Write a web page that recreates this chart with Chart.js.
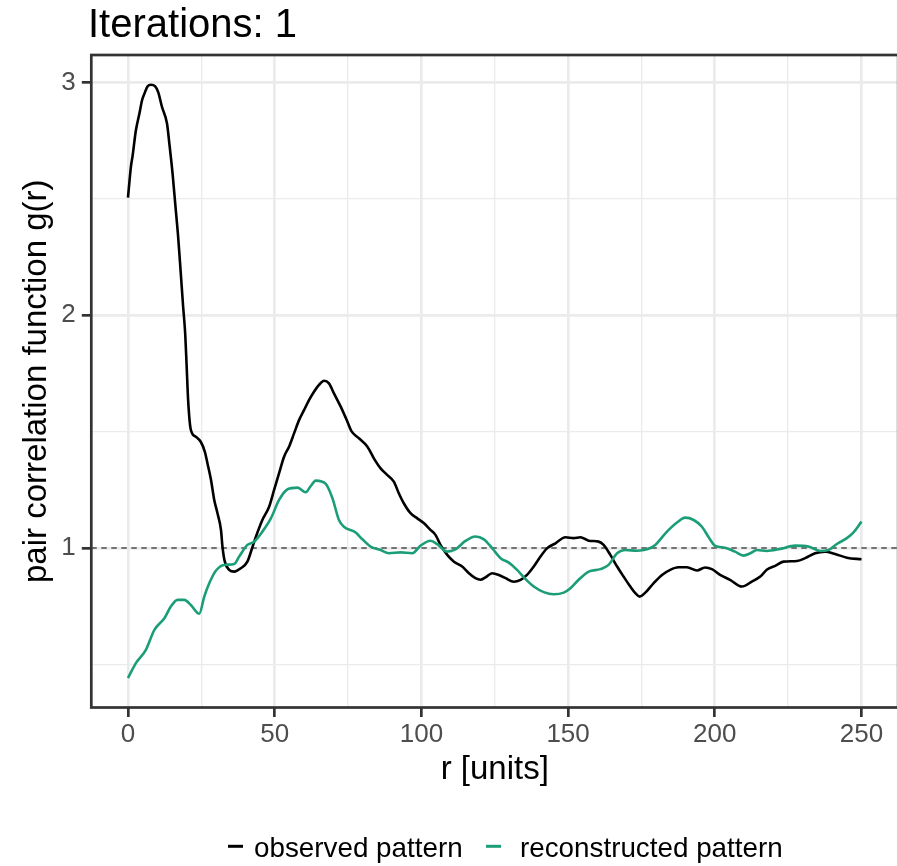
<!DOCTYPE html>
<html>
<head>
<meta charset="utf-8">
<script src="https://cdn.jsdelivr.net/npm/chart.js@4.4.1/dist/chart.umd.min.js"></script>
<style>
  html, body { margin: 0; padding: 0; background: #ffffff; overflow: hidden; }
  #wrap { position: relative; width: 920px; height: 866px; }
</style>
</head>
<body>
<div id="wrap"><canvas id="c" width="920" height="866"></canvas></div>
<script>
// ---- text ----
const plotTitle = 'Iterations: 1';
const xTitle = 'r [units]';
const yTitle = 'pair correlation function g(r)';
const seriesNames = ['observed pattern', 'reconstructed pattern'];
const seriesColors = ['#000000', '#1B9E77'];

// ---- observed pattern: distance r and g(r) ----
const obsR = [0, 1.0, 1.6, 2.7, 3.9, 4.8, 5.8, 6.7, 7.8, 9.2,
  10.3, 11.6, 13.3, 14.1, 15.2, 16.1, 17.1, 18.0, 18.8, 19.5,
  20.0, 20.5, 21.4, 23.1, 24.8, 26.2, 27.1, 28.3, 29.4, 30.5,
  31.7, 32.2, 33.0, 34.5, 36.2, 38.5, 40.7, 42.1, 43.6, 45.8,
  48.1, 49.8, 51.5, 53.2, 54.9, 56.6, 58.3, 60.0, 61.7, 63.4,
  65.1, 66.8, 68.5, 70.2, 72.5, 74.8, 76.1, 78.7, 81.6, 83.8,
  86.1, 88.4, 90.6, 92.3, 94.0, 96.3, 98.6, 100.9, 102.9, 104.8,
  106.5, 108.8, 111.1, 113.9, 116.2, 118.4, 120.1, 121.9, 124.1, 126.4,
  128.7, 131.5, 133.8, 136.0, 138.3, 140.6, 142.9, 145.7, 149.1, 151.9,
  154.2, 157.0, 160.4, 162.1, 164.4, 166.7, 168.9, 171.2, 172.9, 174.4,
  176.3, 179.1, 182.0, 184.8, 187.6, 190.5, 193.9, 196.7, 199.0, 201.8,
  205.2, 209.2, 212.6, 215.5, 217.7, 220.6, 223.4, 228.0, 230.8, 234.2,
  237.6, 241.0, 245.0, 250.0];
const obsG = [2.505, 2.637, 2.687, 2.794, 2.866, 2.923, 2.958, 2.983, 2.990, 2.984,
  2.958, 2.894, 2.823, 2.737, 2.608, 2.479, 2.336, 2.179, 2.036, 1.921,
  1.780, 1.635, 1.509, 1.478, 1.456, 1.413, 1.363, 1.292, 1.206, 1.149,
  1.077, 1.006, 0.941, 0.906, 0.898, 0.913, 0.941, 0.991, 1.048, 1.120,
  1.177, 1.249, 1.321, 1.392, 1.435, 1.492, 1.549, 1.592, 1.635, 1.671,
  1.700, 1.718, 1.707, 1.664, 1.607, 1.542, 1.503, 1.471, 1.435, 1.385,
  1.342, 1.313, 1.285, 1.235, 1.192, 1.149, 1.127, 1.106, 1.080, 1.056,
  1.013, 0.970, 0.941, 0.920, 0.891, 0.870, 0.863, 0.874, 0.891, 0.884,
  0.870, 0.855, 0.863, 0.884, 0.920, 0.963, 0.999, 1.020, 1.046, 1.042,
  1.046, 1.031, 1.027, 1.013, 0.970, 0.920, 0.877, 0.834, 0.806, 0.791,
  0.808, 0.848, 0.884, 0.906, 0.917, 0.917, 0.903, 0.916, 0.909, 0.884,
  0.863, 0.834, 0.855, 0.877, 0.906, 0.923, 0.941, 0.944, 0.956, 0.977,
  0.984, 0.974, 0.958, 0.951];

// ---- reconstructed pattern: distance r and g(r) ----
const recR = [0, 2.7, 6.1, 9.0, 12.4, 14.6, 16.9, 19.2, 21.4, 24.3,
  26.0, 27.7, 30.0, 32.8, 36.2, 37.9, 40.7, 43.0, 45.8, 48.7,
  51.5, 54.4, 57.8, 60.6, 62.3, 64.0, 67.4, 69.7, 71.9, 73.6,
  77.6, 79.9, 82.7, 86.1, 88.9, 92.9, 96.9, 99.7, 103.1, 105.4,
  108.8, 111.6, 115.0, 118.4, 121.3, 124.1, 127.0, 129.8, 132.6, 135.5,
  138.3, 141.7, 145.1, 148.5, 150.8, 153.6, 157.0, 161.0, 163.8, 166.7,
  169.5, 173.5, 176.9, 179.7, 183.7, 187.1, 189.9, 192.8, 195.6, 197.9,
  200.1, 203.5, 206.9, 209.8, 212.1, 214.3, 217.7, 222.3, 227.4, 231.9,
  235.9, 238.7, 241.6, 245.0, 247.2, 250.0];
const recG = [0.441, 0.505, 0.562, 0.648, 0.698, 0.748, 0.777, 0.777, 0.755, 0.717,
  0.791, 0.848, 0.903, 0.927, 0.931, 0.963, 1.013, 1.027, 1.070, 1.127,
  1.206, 1.252, 1.259, 1.239, 1.266, 1.289, 1.275, 1.213, 1.120, 1.091,
  1.066, 1.037, 1.006, 0.991, 0.977, 0.981, 0.977, 1.010, 1.031, 1.016,
  0.984, 0.994, 1.030, 1.049, 1.037, 0.999, 0.956, 0.937, 0.906, 0.866,
  0.834, 0.810, 0.801, 0.808, 0.827, 0.863, 0.898, 0.909, 0.927, 0.977,
  0.991, 0.988, 0.994, 1.013, 1.070, 1.109, 1.130, 1.120, 1.091, 1.046,
  1.009, 1.001, 0.984, 0.967, 0.977, 0.991, 0.987, 0.996, 1.010, 1.006,
  0.987, 0.991, 1.017, 1.042, 1.066, 1.113];

// ---- axes ----
const xMajor = [0, 50, 100, 150, 200, 250];
const xMinor = [25, 75, 125, 175, 225];
const yMajor = [1, 2, 3];
const yMinor = [0.5, 1.5, 2.5];
const xLimits = [-12.5, 262.5];
const yLimits = [0.3145, 3.1175];
const refLine = 1;   // g(r) of a random pattern

const FONT = '"Liberation Sans", Arial, Helvetica, sans-serif';
Chart.defaults.font.family = FONT;

const toPoints = (xs, ys) => xs.map((x, i) => ({ x: x, y: ys[i] }));
const sortedTicks = (a, b) => a.concat(b).sort((p, q) => p - q).map(v => ({ value: v }));
const isMajor = (list, c) => c.tick && list.includes(c.tick.value);

// panel frame, title and legend
const decorations = {
  id: 'decorations',
  afterDatasetsDraw(chart) {
    const { ctx, chartArea: a } = chart;
    ctx.save();
    ctx.strokeStyle = '#333333';
    ctx.lineWidth = 2.7;
    ctx.strokeRect(a.left, a.top, a.right - a.left, a.bottom - a.top);
    ctx.restore();
  },
  afterDraw(chart) {
    const ctx = chart.ctx;
    ctx.save();
    ctx.fillStyle = '#000000';
    ctx.textBaseline = 'alphabetic';
    ctx.textAlign = 'left';
    ctx.font = '40px ' + FONT;
    ctx.fillText(plotTitle, 88, 36.5);

    // legend keys and labels
    const keyX = [228, 486];
    const textX = [254, 520];
    ctx.font = '27.8px ' + FONT;
    seriesNames.forEach((name, i) => {
      ctx.strokeStyle = seriesColors[i];
      ctx.lineWidth = 3;
      ctx.beginPath();
      ctx.moveTo(keyX[i], 846.3);
      ctx.lineTo(keyX[i] + 15, 846.3);
      ctx.stroke();
      ctx.fillStyle = '#000000';
      ctx.fillText(name, textX[i], 857);
    });
    ctx.restore();
  }
};

new Chart(document.getElementById('c'), {
  type: 'line',
  data: {
    datasets: [
      {
        label: seriesNames[1],
        data: toPoints(recR, recG),
        borderColor: seriesColors[1],
        borderWidth: 2.6,
        pointRadius: 0,
        cubicInterpolationMode: 'monotone',
        order: 1
      },
      {
        label: seriesNames[0],
        data: toPoints(obsR, obsG),
        borderColor: seriesColors[0],
        borderWidth: 2.6,
        pointRadius: 0,
        cubicInterpolationMode: 'monotone',
        order: 2
      },
      {
        label: 'reference',
        data: toPoints(xLimits, [refLine, refLine]),
        borderColor: '#4D4D4D',
        borderWidth: 1.6,
        borderDash: [5.5, 4.5],
        pointRadius: 0,
        order: 3
      }
    ]
  },
  options: {
    responsive: false,
    animation: false,
    devicePixelRatio: 1,
    layout: { padding: { top: 55, right: 21.8, left: 0, bottom: 0 } },
    plugins: {
      legend: { display: false },
      title: { display: false },
      tooltip: { enabled: false }
    },
    scales: {
      x: {
        type: 'linear',
        min: xLimits[0],
        max: xLimits[1],
        afterBuildTicks: s => { s.ticks = sortedTicks(xMajor, xMinor); },
        afterFit: s => { s.height = 158.5; },
        border: { display: false },
        grid: {
          color: '#EBEBEB',
          lineWidth: c => isMajor(xMajor, c) ? 2.7 : 1.35,
          drawTicks: true,
          tickLength: 9.5,
          tickWidth: 2.7,
          tickColor: c => isMajor(xMajor, c) ? '#333333' : 'rgba(0,0,0,0)'
        },
        ticks: {
          autoSkip: false,
          maxRotation: 0,
          padding: 2.4,
          color: '#4D4D4D',
          font: { size: 26 },
          callback: v => xMajor.includes(v) ? String(v) : ''
        },
        title: {
          display: true,
          text: xTitle,
          color: '#000000',
          font: { size: 33 },
          padding: { top: 0, bottom: 75.9 }
        }
      },
      y: {
        type: 'linear',
        min: yLimits[0],
        max: yLimits[1],
        afterBuildTicks: s => { s.ticks = sortedTicks(yMajor, yMinor); },
        afterFit: s => { s.width = 91.3; },
        border: { display: false },
        grid: {
          color: '#EBEBEB',
          lineWidth: c => isMajor(yMajor, c) ? 2.7 : 1.35,
          drawTicks: true,
          tickLength: 9.5,
          tickWidth: 2.7,
          tickColor: c => isMajor(yMajor, c) ? '#333333' : 'rgba(0,0,0,0)'
        },
        ticks: {
          autoSkip: false,
          padding: 6,
          color: '#4D4D4D',
          font: { size: 26 },
          callback: v => yMajor.includes(v) ? String(v) : ''
        },
        title: {
          display: true,
          text: yTitle,
          color: '#000000',
          font: { size: 33 },
          padding: { top: 17.1, bottom: 0 }
        }
      }
    }
  },
  plugins: [decorations]
});
</script>
</body>
</html>
